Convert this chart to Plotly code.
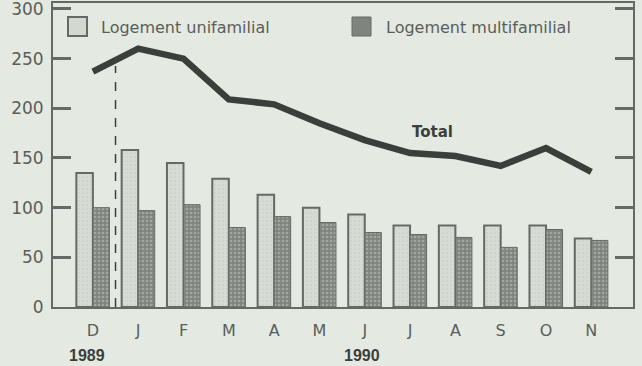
import plotly.graph_objects as go

# Mises en chantier mensuelles (milliers), déc. 1989 - nov. 1990
mois = ["D", "J", "F", "M", "A", "M", "J", "J", "A", "S", "O", "N"]
unifamilial = [135, 158, 145, 129, 113, 100, 93, 82, 82, 82, 82, 69]
multifamilial = [100, 97, 103, 80, 91, 85, 75, 73, 70, 60, 78, 67]
total = [237, 260, 250, 209, 204, 185, 168, 155, 152, 142, 160, 136]
annees = ["1989", "1990"]

x = list(range(len(mois)))
bg = "#e4e9e2"
txt = "#5a5e5a"
dark = "#3b3f3b"
edge = "#656a64"
sans = "DejaVu Sans, Verdana, sans-serif"
bold = "Liberation Sans, Arial, sans-serif"

W, H = 642, 366
L, R, T, B = 53, 9, 3, 59
pw, ph = W - L - R, H - T - B


def px(xp):
    return (xp - L) / pw


def py(yp):
    return 1 - (yp - T) / ph


fig = go.Figure()

fig.add_trace(go.Bar(
    x=x, y=unifamilial, name="Logement unifamilial",
    marker=dict(color="#d3d8d1",
                line=dict(color=edge, width=2),
                pattern=dict(shape=".", fgcolor="#c2c7c0", bgcolor="#d6dbd4", size=4, solidity=0.2)),
    showlegend=False,
))
fig.add_trace(go.Bar(
    x=x, y=multifamilial, name="Logement multifamilial",
    marker=dict(color="#8f948e",
                line=dict(color=edge, width=1),
                pattern=dict(shape=".", fgcolor="#c6cbc4", bgcolor="#7f847e", size=4, solidity=0.35)),
    showlegend=False,
))
fig.add_trace(go.Scatter(
    x=x, y=total, mode="lines", name="Total",
    line=dict(color=dark, width=6.5),
    showlegend=False,
))

# séparation entre 1989 et 1990
fig.add_shape(type="line", x0=0.5, x1=0.5, y0=0, y1=(total[0] + total[1]) / 2 - 6,
              xref="x", yref="y", line=dict(color=dark, width=1.5, dash="dash"))

# légende dessinée
fig.add_shape(type="rect", xref="paper", yref="paper",
              x0=px(68), x1=px(87), y0=py(36), y1=py(17),
              line=dict(color=edge, width=2), fillcolor="#d3d8d1")
fig.add_shape(type="rect", xref="paper", yref="paper",
              x0=px(352), x1=px(371), y0=py(36), y1=py(17),
              line=dict(color=edge, width=1), fillcolor="#7f847e")
fig.add_annotation(xref="paper", yref="paper", x=px(99), y=py(27),
                   text="Logement unifamilial", showarrow=False, xanchor="left", yanchor="middle",
                   font=dict(size=16, color=txt, family=sans))
fig.add_annotation(xref="paper", yref="paper", x=px(384), y=py(27),
                   text="Logement multifamilial", showarrow=False, xanchor="left", yanchor="middle",
                   font=dict(size=16, color=txt, family=sans))

fig.add_annotation(x=7.5, y=176, xref="x", yref="y", text="<b>Total</b>", showarrow=False,
                   font=dict(size=15, color=dark, family=sans))

# années sous l'axe
fig.add_annotation(xref="x", yref="paper", x=-0.13, y=py(355), text="<b>" + annees[0] + "</b>",
                   showarrow=False, yanchor="middle", font=dict(size=16, color=dark, family=bold))
fig.add_annotation(xref="x", yref="paper", x=5.94, y=py(355), text="<b>" + annees[1] + "</b>",
                   showarrow=False, yanchor="middle", font=dict(size=16, color=dark, family=bold))

fig.update_layout(
    width=W, height=H,
    margin=dict(l=L, r=R, t=T, b=B, autoexpand=False),
    paper_bgcolor=bg, plot_bgcolor=bg,
    barmode="group", bargap=0.27, bargroupgap=0,
    font=dict(family=sans, color=txt, size=15),
)
fig.update_xaxes(
    range=[-0.88, 11.92], tickmode="array", tickvals=x, ticktext=mois,
    showline=True, linecolor=edge, linewidth=2, mirror=True,
    showgrid=False, zeroline=False, ticks="", ticklabelstandoff=8,
    tickfont=dict(size=16, color=txt, family=sans), automargin=False,
)
fig.update_yaxes(
    range=[0, 306], tickmode="array", tickvals=[0, 50, 100, 150, 200, 250, 300],
    showline=True, linecolor=edge, linewidth=2, mirror="ticks",
    showgrid=False, zeroline=False, ticks="inside", ticklen=18, tickwidth=3,
    tickcolor=edge, tickfont=dict(size=17, color=txt, family=sans),
    ticklabeloverflow="allow", ticklabelstandoff=4, automargin=False,
)

fig.write_html("out.html")
